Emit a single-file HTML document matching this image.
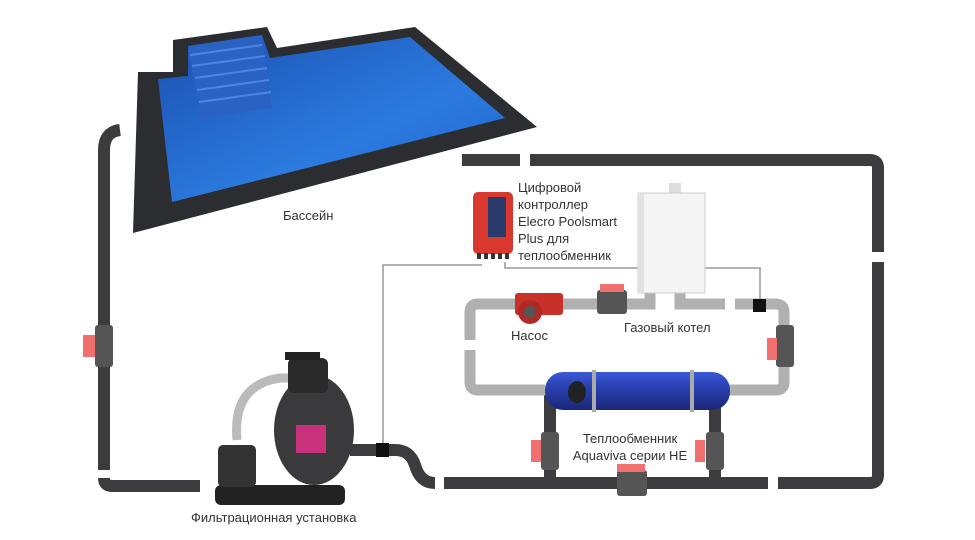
<!DOCTYPE html>
<html><head><meta charset="utf-8"><style>
body{margin:0;background:#fff;width:975px;height:540px;overflow:hidden}
svg{display:block}
text{font-family:"Liberation Sans",sans-serif;fill:#333}
</style></head><body>
<svg width="975" height="540" viewBox="0 0 975 540">
<defs>
<linearGradient id="pw" x1="0" y1="0" x2="1" y2="1"><stop offset="0" stop-color="#1b4fb0"/><stop offset="0.6" stop-color="#2c7be0"/><stop offset="1" stop-color="#1d5fc8"/></linearGradient>
<linearGradient id="he" x1="0" y1="0" x2="0" y2="1"><stop offset="0" stop-color="#3a5ad8"/><stop offset="0.4" stop-color="#2a3fb0"/><stop offset="1" stop-color="#1a2878"/></linearGradient>
</defs>
<!-- pool -->
<polygon points="138,72 173,72 173,40 267,27 277,48 415,27 537,127 133,233" fill="#2b2d30"/>
<polygon points="158,79 188,76 188,46 262,35 270,58 410,37 505,118 172,202" fill="url(#pw)"/>
<polygon points="188,46 262,35 272,108 200,118" fill="#2a62c4"/>
<g stroke="#4a86e0" stroke-width="2"><line x1="190" y1="55" x2="262" y2="45"/><line x1="192" y1="66" x2="265" y2="56"/><line x1="195" y1="78" x2="267" y2="68"/><line x1="197" y1="90" x2="269" y2="80"/><line x1="199" y1="102" x2="271" y2="92"/></g>
<text x="283" y="220" font-size="13">Бассейн</text>
<!-- dark pipes -->
<g fill="none" stroke="#3c3c3e" stroke-width="12">
<path d="M120,130 Q104,132 104,150 V470"/>
<path d="M104,478 V478 Q104,486 112,486 H200"/>
<path d="M350,450 H395 Q410,450 415,465 Q420,483 435,483"/>
<path d="M444,483 H768"/>
<path d="M778,483 H870 Q878,483 878,475 V262"/>
<path d="M878,252 V168 Q878,160 870,160 H530"/>
<path d="M520,160 H462"/>
<path d="M550,395 V483"/><path d="M715,395 V483"/>
</g>
<!-- gray loop -->
<g fill="none" stroke="#b0b0b0" stroke-width="11">
<path d="M470,340 V312 Q470,304 478,304 H650 V288"/>
<path d="M680,288 V304 H725"/><path d="M735,304 H775 Q784,304 784,312 V382 Q784,390 776,390 H700"/>
<path d="M545,390 H478 Q470,390 470,382 V350"/>
</g>
<!-- wires -->
<g fill="none" stroke="#999" stroke-width="1.5">
<path d="M383,450 V265 H482"/><path d="M505,262 V268 H760 V305"/>
</g>
<rect x="753" y="299" width="13" height="13" fill="#111"/>
<rect x="376" y="443" width="13" height="14" fill="#111"/>
<!-- valves -->
<g fill="#555"><rect x="95" y="325" width="18" height="42" rx="3"/><rect x="597" y="290" width="30" height="24" rx="3"/><rect x="776" y="325" width="18" height="42" rx="3"/><rect x="541" y="432" width="18" height="38" rx="3"/><rect x="706" y="432" width="18" height="38" rx="3"/><rect x="617" y="470" width="30" height="26" rx="3"/></g>
<g fill="#f07070"><rect x="83" y="335" width="12" height="22"/><rect x="600" y="284" width="24" height="8"/><rect x="767" y="338" width="10" height="22"/><rect x="531" y="440" width="10" height="22"/><rect x="695" y="440" width="10" height="22"/><rect x="617" y="464" width="28" height="8"/></g>
<!-- controller -->
<rect x="473" y="192" width="40" height="62" rx="5" fill="#d8382d"/>
<rect x="488" y="197" width="18" height="40" fill="#2a3a6a"/>
<g fill="#333"><rect x="477" y="253" width="4" height="6"/><rect x="484" y="253" width="4" height="6"/><rect x="491" y="253" width="4" height="6"/><rect x="498" y="253" width="4" height="6"/><rect x="505" y="253" width="4" height="6"/></g>
<text font-size="13"><tspan x="518" y="192">Цифровой</tspan><tspan x="518" y="209">контроллер</tspan><tspan x="518" y="226">Elecro Poolsmart</tspan><tspan x="518" y="243">Plus для</tspan><tspan x="518" y="260">теплообменник</tspan></text>
<!-- boiler -->
<rect x="669" y="183" width="12" height="12" fill="#ddd"/>
<rect x="638" y="193" width="67" height="100" fill="#f4f4f4" stroke="#ccc"/>
<rect x="638" y="193" width="6" height="100" fill="#e2e2e2"/>
<text x="624" y="332" font-size="13">Газовый котел</text>
<!-- pump -->
<rect x="515" y="293" width="48" height="22" rx="3" fill="#c8302a"/>
<circle cx="530" cy="312" r="12" fill="#b02a25"/><circle cx="530" cy="312" r="6" fill="#555"/>
<text x="511" y="340" font-size="13">Насос</text>
<!-- heat exchanger -->
<rect x="545" y="372" width="185" height="38" rx="18" fill="url(#he)"/>
<rect x="592" y="370" width="4" height="42" fill="#aaa"/><rect x="690" y="370" width="4" height="42" fill="#aaa"/>
<ellipse cx="577" cy="392" rx="9" ry="11" fill="#222"/>
<text font-size="13" text-anchor="middle"><tspan x="630" y="443">Теплообменник</tspan><tspan x="630" y="460">Aquaviva серии HE</tspan></text>
<!-- filter -->
<path d="M237,440 Q232,385 280,378 L300,378" fill="none" stroke="#bbb" stroke-width="9"/>
<rect x="215" y="485" width="130" height="20" rx="6" fill="#222"/>
<rect x="218" y="445" width="38" height="42" rx="5" fill="#333"/>
<ellipse cx="314" cy="430" rx="40" ry="55" fill="#3a3a3c"/>
<rect x="288" y="358" width="40" height="35" rx="6" fill="#2a2a2a"/>
<rect x="285" y="352" width="35" height="8" fill="#222"/>
<rect x="296" y="425" width="30" height="28" fill="#c8327a"/>
<text x="191" y="522" font-size="13">Фильтрационная установка</text>
</svg>
</body></html>
